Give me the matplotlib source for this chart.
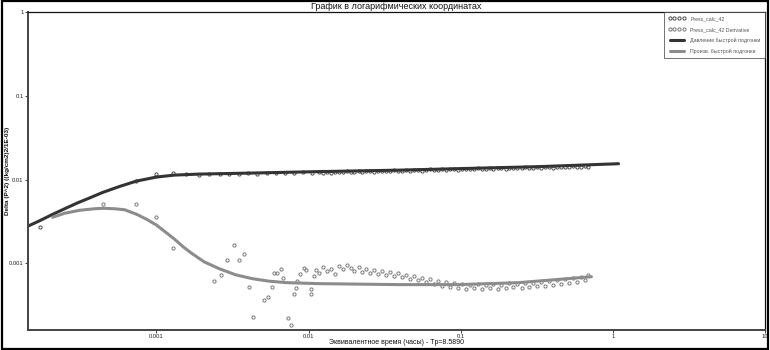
"""
Log-log plot: pressure change and derivative vs equivalent time
"""

import matplotlib
matplotlib.use("Agg")
import matplotlib.pyplot as plt
from matplotlib.patches import Rectangle

plt.rcParams["font.family"] = ["Liberation Sans", "DejaVu Sans"]

# measured points (hours, delta P^2)
t_press = [1.71e-4, 7.28e-4, 1.0e-3, 1.29e-3, 1.57e-3, 1.91e-3, 2.2e-3, 2.6e-3,
           3.0e-3, 3.5e-3, 4.0e-3, 4.6e-3, 5.3e-3, 6.1e-3, 7.0e-3, 8.0e-3,
           9.2e-3, 0.0105]
p_press = [0.0027, 0.00973, 0.0115, 0.0121, 0.0118, 0.0113, 0.0115, 0.0116,
           0.0118, 0.0117, 0.0119, 0.0118, 0.0120, 0.0119, 0.0121, 0.0120,
           0.0122, 0.0121]

t_deriv = [4.43e-4, 7.28e-4, 1.0e-3, 1.29e-3, 0.0024, 0.00267, 0.00292, 0.00325,
           0.0035, 0.00378, 0.00407, 0.00433, 0.0051, 0.00542, 0.00577, 0.00594,
           0.00621, 0.0066, 0.0068, 0.00734, 0.00768, 0.00804, 0.0082, 0.0084,
           0.0088, 0.0093, 0.0096, 0.0103, 0.0104, 0.0109, 0.0112]
p_deriv = [0.00506, 0.00517, 0.00355, 0.00153, 0.000621, 0.000731, 0.0011, 0.00166,
           0.0011, 0.0013, 0.000527, 0.000226, 0.00036, 0.000391, 0.000527, 0.000772,
           0.000772, 0.000861, 0.000673, 0.00022, 0.000182, 0.000436, 0.000513, 0.000621,
           0.000751, 0.000885, 0.000838, 0.000436, 0.000499, 0.000711, 0.000838]

# late-time samples shared by both measured series
t_late = [0.0117, 0.0124, 0.0132, 0.0140, 0.0149, 0.0158, 0.0168, 0.0178, 0.0189,
          0.0200, 0.0213, 0.0226, 0.0240, 0.0255, 0.0270, 0.0287, 0.0305, 0.0324,
          0.0344, 0.0365, 0.0388, 0.0412, 0.0438, 0.0465, 0.0494, 0.0524, 0.0557,
          0.0591, 0.0628, 0.0667, 0.0708, 0.0752, 0.0799, 0.0849, 0.0901, 0.0957,
          0.102, 0.108, 0.115, 0.122, 0.129, 0.137, 0.146, 0.155, 0.164, 0.175,
          0.185, 0.197, 0.209, 0.222, 0.236, 0.251, 0.266, 0.283, 0.300, 0.319,
          0.339, 0.360, 0.382, 0.406, 0.431, 0.458, 0.486, 0.516, 0.548, 0.582,
          0.618, 0.656, 0.69]
p_press_late = [0.0122, 0.0120, 0.0123, 0.0121, 0.0124, 0.0122, 0.0123, 0.0125, 0.0122,
                0.0124, 0.0126, 0.0123, 0.0125, 0.0127, 0.0124, 0.0126, 0.0128, 0.0125,
                0.0127, 0.0129, 0.0126, 0.0128, 0.0130, 0.0127, 0.0129, 0.0131, 0.0128,
                0.0130, 0.0132, 0.0129, 0.0131, 0.0133, 0.0130, 0.0132, 0.0134, 0.0131,
                0.0133, 0.0135, 0.0132, 0.0134, 0.0136, 0.0133, 0.0135, 0.0137, 0.0134,
                0.0136, 0.0138, 0.0135, 0.0137, 0.0139, 0.0136, 0.0138, 0.0140, 0.0137,
                0.0139, 0.0141, 0.0138, 0.0140, 0.0142, 0.0139, 0.0141, 0.0143, 0.0140,
                0.0142, 0.0144, 0.0141, 0.0143, 0.0145, 0.0142]
p_deriv_late = [0.000772, 0.000909, 0.000815, 0.000861, 0.000751, 0.000934, 0.000861,
                0.000960, 0.000885, 0.000815, 0.000909, 0.000793, 0.000861, 0.000772,
                0.000838, 0.000751, 0.000815, 0.000731, 0.000793, 0.000711, 0.000772,
                0.000692, 0.000731, 0.000656, 0.000711, 0.000638, 0.000674, 0.000604,
                0.000656, 0.000572, 0.000621, 0.000542, 0.000604, 0.000527, 0.000588,
                0.000513, 0.000572, 0.000499, 0.000557, 0.000513, 0.000572, 0.000499,
                0.000557, 0.000513, 0.000572, 0.000499, 0.000557, 0.000513, 0.000588,
                0.000527, 0.000572, 0.000513, 0.000588, 0.000527, 0.000588, 0.000542,
                0.000604, 0.000542, 0.000621, 0.000557, 0.000638, 0.000572, 0.000656,
                0.000588, 0.000674, 0.000604, 0.000692, 0.000638, 0.000731]

# fitted model curves
t_fit_p = [1.43e-4, 1.71e-4, 2.08e-4, 2.49e-4, 3.03e-4, 3.64e-4, 4.43e-4, 5.72e-4,
           7.4e-4, 1.0e-3, 1.31e-3, 1.91e-3, 4.07e-3, 0.0117, 0.0392, 0.097, 0.325, 1.09]
p_fit_p = [0.00278, 0.00323, 0.00385, 0.00448, 0.00527, 0.00604, 0.00702, 0.00827,
           0.0096, 0.01071, 0.0113, 0.01162, 0.01194, 0.01244, 0.01295, 0.0135,
           0.01426, 0.01545]

t_fit_d = [2.08e-4, 2.49e-4, 3.13e-4, 3.92e-4, 4.43e-4, 5.31e-4, 6.17e-4, 7.4e-4,
           8.6e-4, 1.0e-3, 1.146e-3, 1.31e-3, 1.5e-3, 1.72e-3, 2.06e-3, 2.59e-3,
           3.3e-3, 4.26e-3, 5.51e-3, 7.12e-3, 0.0117, 0.0392, 0.097, 0.240, 0.723]
p_fit_d = [0.00355, 0.00396, 0.0043, 0.00448, 0.00454, 0.00448, 0.00436, 0.00385,
           0.00336, 0.00286, 0.00236, 0.00195, 0.00157, 0.0013, 0.00104, 0.000861,
           0.000731, 0.000656, 0.000612, 0.000588, 0.000572, 0.000557, 0.000557,
           0.000588, 0.000692]

xticks = [0.001, 0.01, 0.1, 1, 10]
xtick_labels = ["0.001", "0.01", "0.1", "1", "10"]
yticks = [0.001, 0.01, 0.1, 1]
ytick_labels = ["0.001", "0.01", "0.1", "1"]


def main() -> None:
    fig = plt.figure(figsize=(7.7, 3.5), dpi=100)
    ax = fig.add_axes([28 / 770, 20 / 350, 737 / 770, 318 / 350])

    pt_kw = dict(linestyle="none", marker="o", markersize=2.3,
                 markerfacecolor="none", markeredgewidth=0.7)
    ax.plot(t_press + t_late, p_press + p_press_late, color="#4d4d4d",
            label="Press_calc_42", **pt_kw)
    ax.plot(t_deriv + t_late, p_deriv + p_deriv_late, color="#7a7a7a",
            label="Press_calc_42 Derivative", **pt_kw)
    ax.plot(t_fit_p, p_fit_p, color="#333333", linewidth=2.2,
            label="Давление быстрой подгонки", solid_capstyle="round",
            solid_joinstyle="round")
    ax.plot(t_fit_d, p_fit_d, color="#8c8c8c", linewidth=2.2,
            label="Произв. быстрой подгонки", solid_capstyle="round",
            solid_joinstyle="round")

    ax.set_xscale("log")
    ax.set_yscale("log")
    ax.set_xlim(1.43e-4, 10)
    ax.set_ylim(1.6e-4, 1)
    ax.set_xticks(xticks)
    ax.set_xticklabels(xtick_labels)
    ax.set_yticks(yticks)
    ax.set_yticklabels(ytick_labels)
    ax.minorticks_off()
    ax.tick_params(labelsize=4.2, length=2.0, width=0.6, pad=1.2, colors="#222222")

    for side in ("left", "bottom"):
        ax.spines[side].set_linewidth(1.4)
        ax.spines[side].set_color("#444444")
    for side in ("top", "right"):
        ax.spines[side].set_linewidth(0.9)
        ax.spines[side].set_color("#111111")

    ax.set_title("График в логарифмических координатах", fontsize=6.5,
                 pad=2.5, color="#111111")
    ax.set_xlabel("Эквивалентное время (часы) - Tp=8.5890", fontsize=5,
                  labelpad=0, color="#111111")
    ax.set_ylabel("Delta (P^2) ((kg/cm2)2/1E-03)", fontsize=4.6, fontweight="bold",
                  color="#111111", va="center")
    ax.yaxis.set_label_coords(-0.0275, 0.5)

    leg = ax.legend(loc="upper right", fontsize=3.8, numpoints=4, handlelength=3.2,
                    borderaxespad=0, frameon=True, fancybox=False,
                    borderpad=0.8, labelspacing=1.1, handletextpad=1.0)
    leg.get_frame().set_edgecolor("#333333")
    leg.get_frame().set_linewidth(0.6)
    for txt in leg.get_texts():
        txt.set_color("#555555")

    # outer frame around the whole picture
    fig.patches.append(Rectangle((0.002, 0.003), 0.996, 0.994, transform=fig.transFigure,
                                 fill=False, edgecolor="black", linewidth=1.6))

    fig.savefig("out.png", dpi=100)
    plt.close(fig)


if __name__ == "__main__":
    main()
